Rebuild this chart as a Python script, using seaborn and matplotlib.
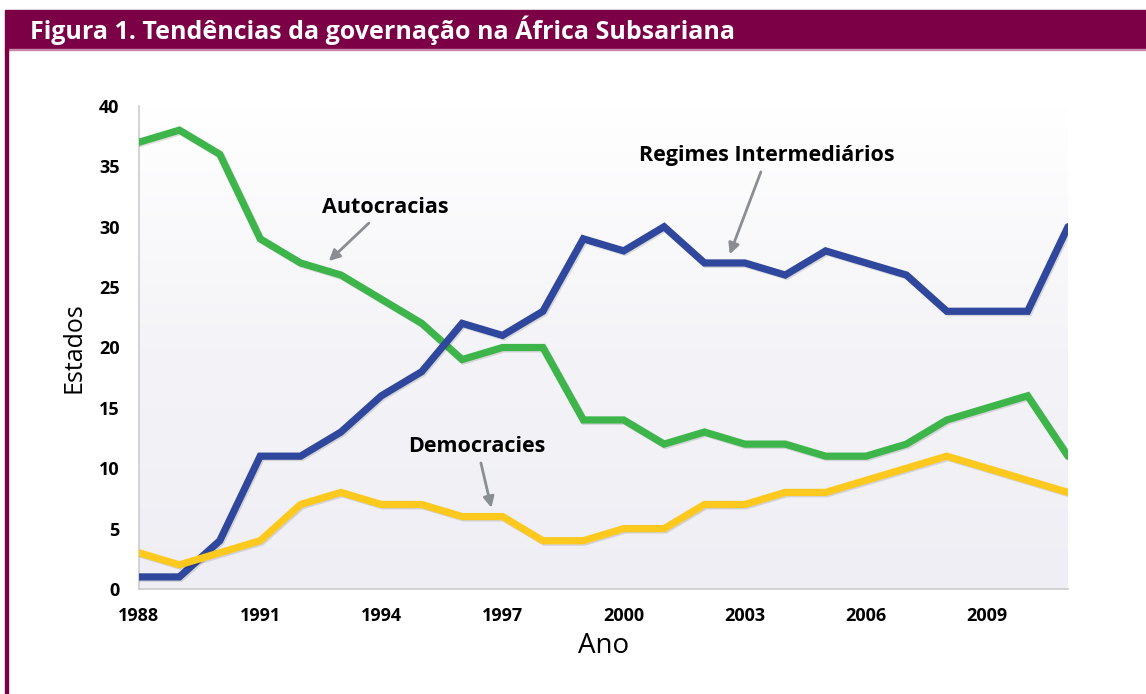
import numpy as np
import pandas as pd
import matplotlib
matplotlib.use("Agg")
import matplotlib.pyplot as plt
import matplotlib.patheffects as pe
from matplotlib.patches import Rectangle
from matplotlib.ticker import MultipleLocator, FixedLocator
from matplotlib.colors import LinearSegmentedColormap
import seaborn as sns

# dados
anos = list(range(1988, 2012))
autocracias = [37, 38, 36, 29, 27, 26, 24, 22, 19, 20, 20, 14,
               14, 12, 13, 12, 12, 11, 11, 12, 14, 15, 16, 11]
intermedios = [1, 1, 4, 11, 11, 13, 16, 18, 22, 21, 23, 29,
               28, 30, 27, 27, 26, 28, 27, 26, 23, 23, 23, 30]
democracias = [3, 2, 3, 4, 7, 8, 7, 7, 6, 6, 4, 4,
               5, 5, 7, 7, 8, 8, 9, 10, 11, 10, 9, 8]
anos_rotulo = list(range(1988, 2012, 3))

series = ["Autocracias", "Regimes Intermediários", "Democracies"]
cores = ["#3db54a", "#2f479c", "#fec91e"]

df = pd.DataFrame({
    "Ano": anos * 3,
    "Estados": autocracias + intermedios + democracias,
    "Regime": [series[0]] * len(anos) + [series[1]] * len(anos) + [series[2]] * len(anos),
})

sns.set_style("white")
plt.rcParams["font.family"] = ["Open Sans", "DejaVu Sans"]

fig = plt.figure(figsize=(11.46, 6.94), dpi=100)

# barra do título + borda esquerda
crimson = "#7b0046"
fig.patches.append(Rectangle((5 / 1146, 1 - 48 / 694), 1, 38 / 694,
                             transform=fig.transFigure, color=crimson, zorder=0))
fig.patches.append(Rectangle((5 / 1146, 1 - 50 / 694), 1, 1.5 / 694,
                             transform=fig.transFigure, color="#c98aa9", zorder=0))
fig.patches.append(Rectangle((5 / 1146, 0), 2.5 / 1146, 1 - 48 / 694,
                             transform=fig.transFigure, color=crimson, zorder=0))
fig.text(30 / 1146, 1 - 30 / 694, "Figura 1. Tendências da governação na África Subsariana",
         color="white", fontsize=18, fontweight="bold", va="center", ha="left")

ax = fig.add_axes([139 / 1146, 1 - 589 / 694, 929 / 1146, 483 / 694])

# fundo em degradê
grad = np.linspace(0, 1, 256).reshape(-1, 1)
cmap_bg = LinearSegmentedColormap.from_list("bg", ["#ffffff", "#f4f4f8", "#efeef4"])
ax.imshow(grad, extent=[0, 1, 0, 1], transform=ax.transAxes, cmap=cmap_bg,
          aspect="auto", zorder=0, origin="upper")

sns.lineplot(data=df, x="Ano", y="Estados", hue="Regime", hue_order=series,
             palette=cores, linewidth=5.2, legend=False, ax=ax, zorder=3)
for ln in ax.lines:
    ln.set_solid_joinstyle("miter")
    ln.set_path_effects([pe.SimpleLineShadow(offset=(1, -1), alpha=0.12),
                         pe.Normal()])

ax.set_xlim(1988, 2011)
ax.set_ylim(0, 40)
ax.xaxis.set_major_locator(FixedLocator(anos_rotulo))
ax.xaxis.set_minor_locator(MultipleLocator(1))
ax.yaxis.set_major_locator(MultipleLocator(5))
ax.tick_params(axis="x", which="both", length=5, color="#cccccc", width=1,
               labelsize=13, pad=8, labelcolor="black")
ax.tick_params(axis="y", length=0, labelsize=13, pad=14, labelcolor="black")
for lab in ax.get_xticklabels() + ax.get_yticklabels():
    lab.set_fontweight("bold")

for s in ["top", "right"]:
    ax.spines[s].set_visible(False)
for s in ["left", "bottom"]:
    ax.spines[s].set_color("#cccccc")
    ax.spines[s].set_linewidth(1.2)

ax.set_xlabel("Ano", fontsize=20, labelpad=5, color="black")
ax.set_ylabel("Estados", fontsize=18, labelpad=9, color="black")

seta = dict(arrowstyle="-|>", color="#8a8d91", lw=2, mutation_scale=16)
rot = dict(fontsize=15.5, fontweight="bold", ha="center", va="center",
           color="black", zorder=5)
ax.annotate("Autocracias", xy=(1992.65, 27.0), xytext=(1994.1, 31.6),
            arrowprops=seta, **rot)
ax.annotate("Regimes Intermediários", xy=(2002.6, 27.5), xytext=(2003.55, 35.9),
            arrowprops=seta, **rot)
ax.annotate("Democracies", xy=(1996.74, 6.5), xytext=(1996.37, 11.8),
            arrowprops=seta, **rot)

fig.savefig("out.png", dpi=100)
